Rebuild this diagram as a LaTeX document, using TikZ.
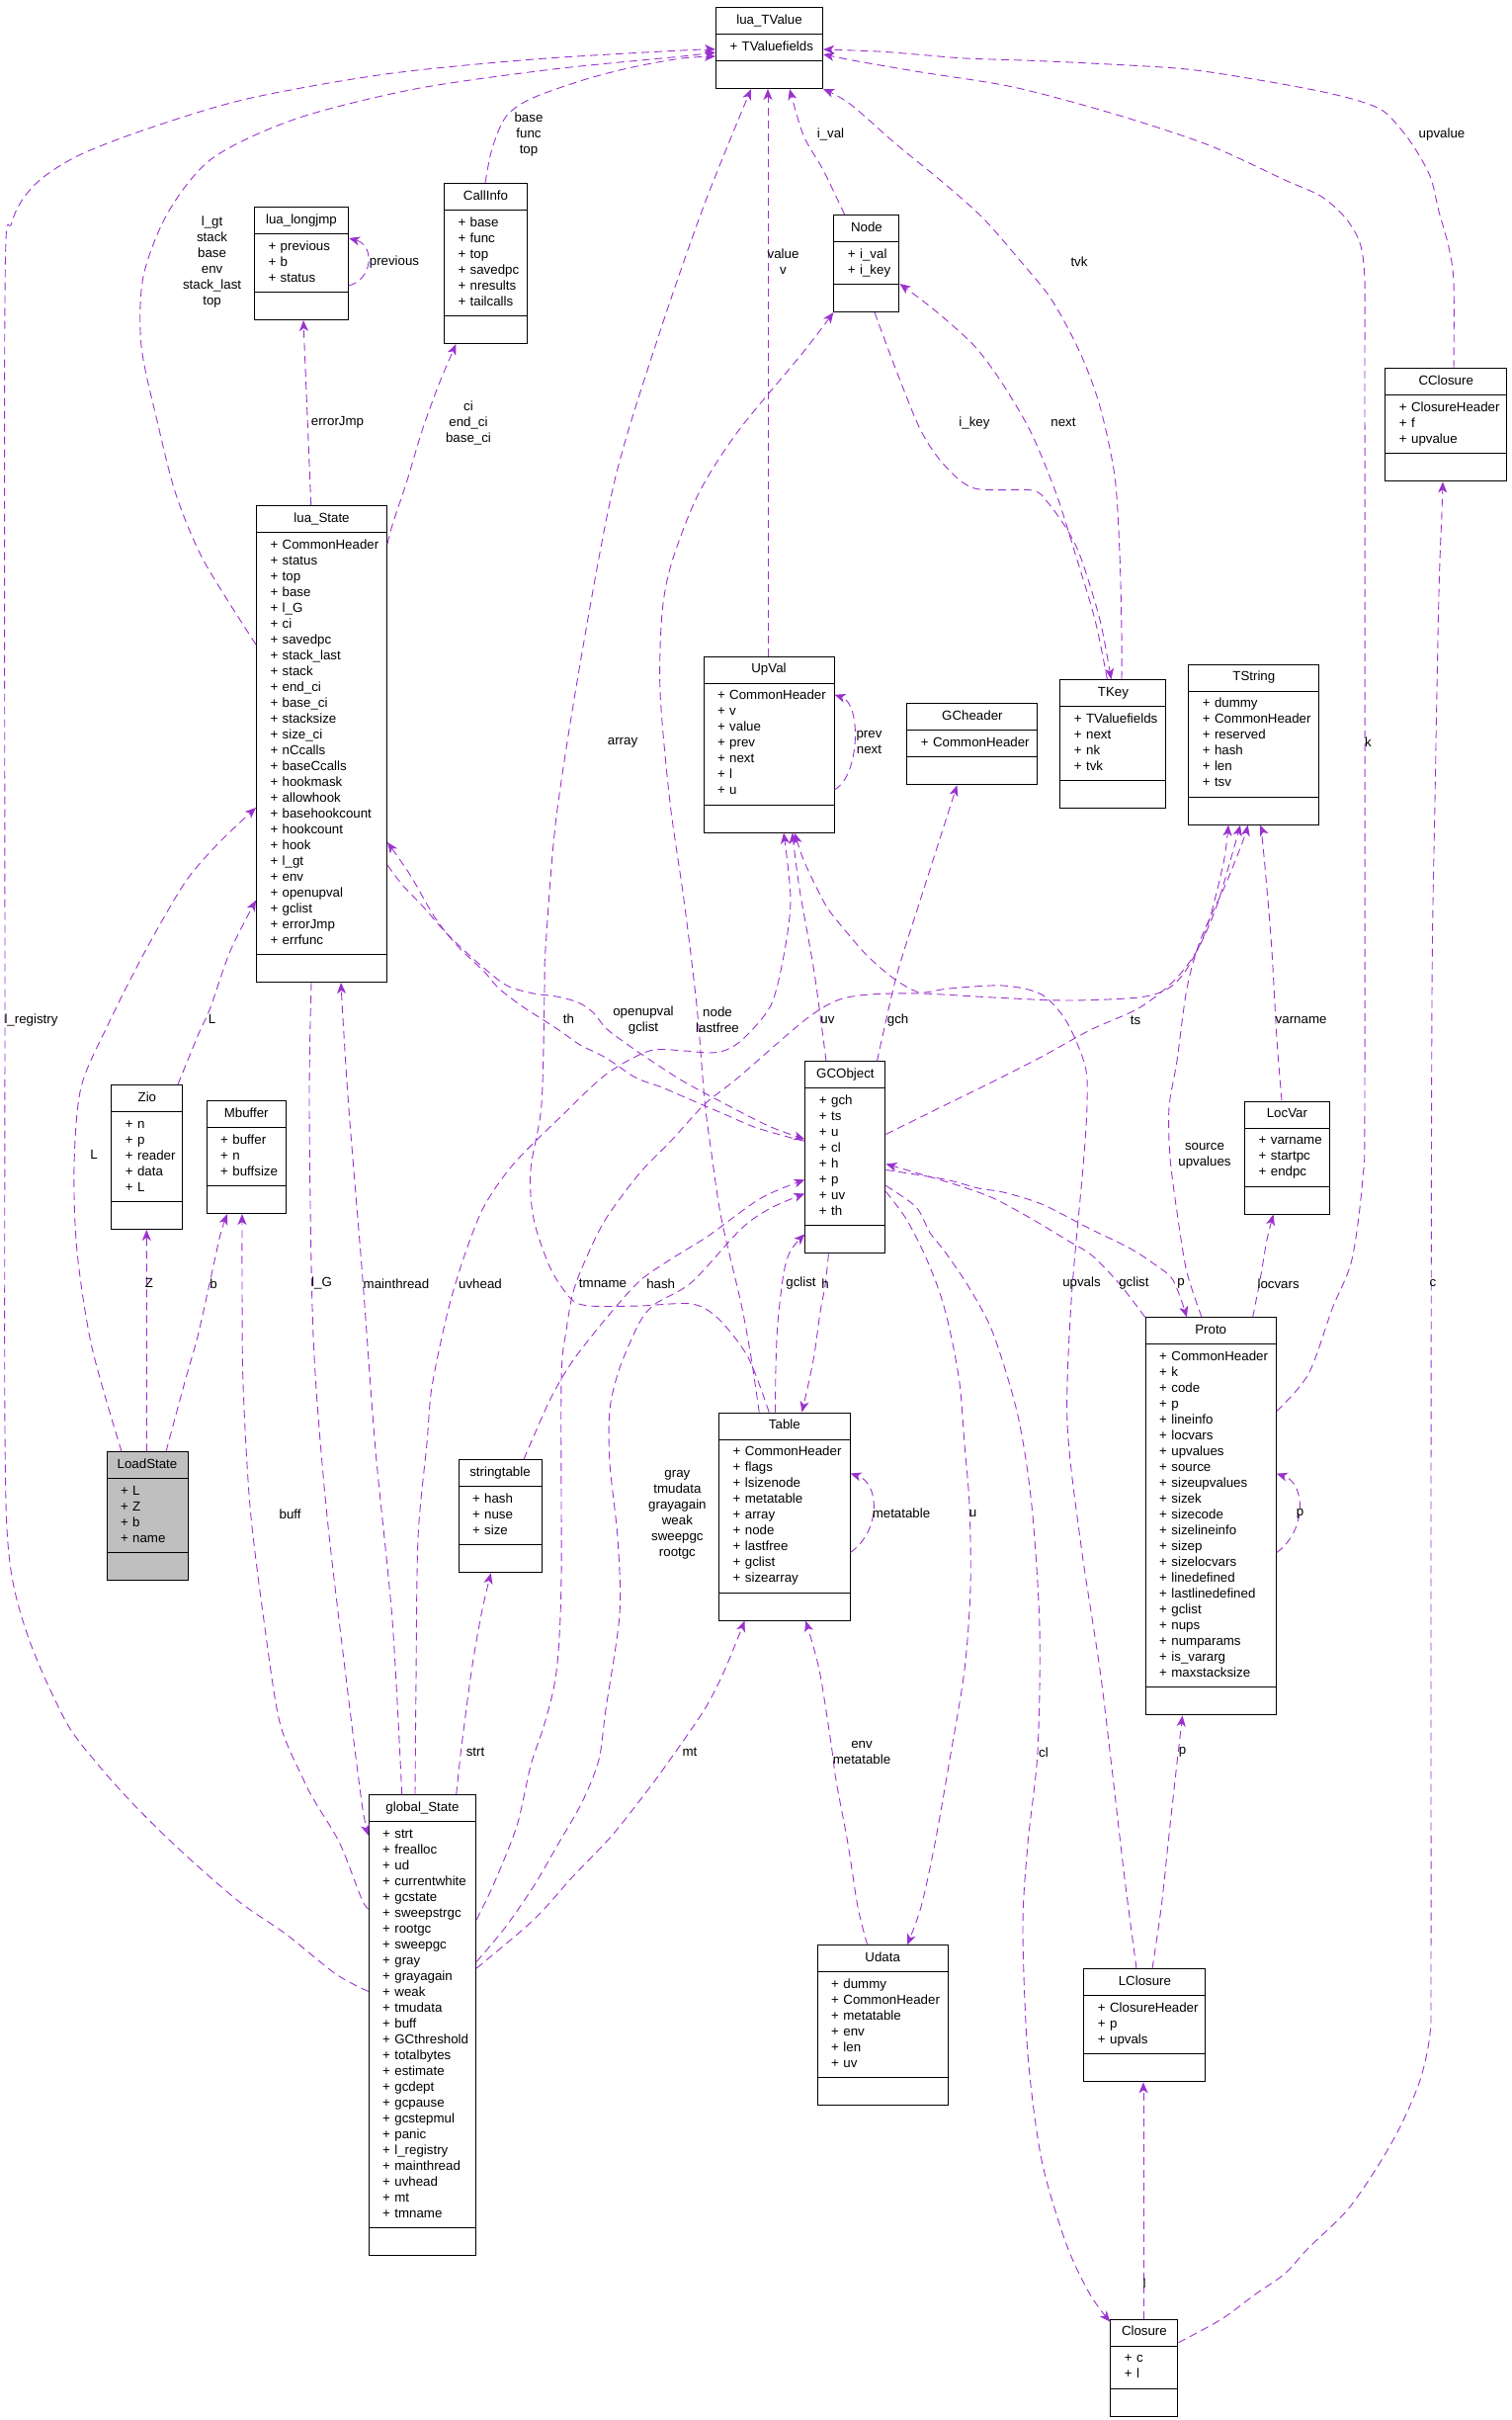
\documentclass[tikz,border=0pt]{standalone}
\usepackage{fontspec}
\setmainfont{Liberation Sans}
\usetikzlibrary{arrows.meta, shapes.multipart}
\definecolor{orchid}{HTML}{9A32CD}
\newcommand{\mem}[1]{\hspace*{11pt}+ #1\strut}
\newcommand{\ttl}[1]{\makebox[\hsize][c]{\strut #1}}

\begin{document}
\begin{tikzpicture}[
				x = 1pt, y = -1pt, % one unit per pixel, y runs down
				> = {Stealth[length=11pt, width=9pt, inset=3pt]}, % arrow head style
				font = \fontsize{13.3}{16}\selectfont,
				cls/.style = {draw = black, line width = 1pt, fill = white,
					rectangle split, rectangle split parts = 3,
					rectangle split empty part height = 17pt,
					rectangle split empty part depth = 0pt,
					inner xsep = 3pt, inner ysep = 5pt, anchor = north west},
				uses/.style = {->, draw = orchid, line width = 0.9pt,
					dash pattern = on 8pt off 5pt},
				lbl/.style = {align = center, inner sep = 0pt}
				]
				
				\useasboundingbox (0,0) rectangle (1529,2448);
				
				% classes
				\node[cls, text width=102pt] (tvalue) at (724,7) {\ttl{lua\_TValue}\nodepart{two} \mem{TValuefields}};
				\node[cls, text width=89pt] (longjmp) at (257,209) {\ttl{lua\_longjmp}\nodepart{two} \mem{previous}\\ \mem{b}\\ \mem{status}};
				\node[cls, text width=78pt] (callinfo) at (449,185) {\ttl{CallInfo}\nodepart{two} \mem{base}\\ \mem{func}\\ \mem{top}\\ \mem{savedpc}\\ \mem{nresults}\\ \mem{tailcalls}};
				\node[cls, text width=60pt] (node) at (843.4,217) {\ttl{Node}\nodepart{two} \mem{i\_val}\\ \mem{i\_key}};
				\node[cls, text width=116.6pt] (cclosure) at (1401.4,372.4) {\ttl{CClosure}\nodepart{two} \mem{ClosureHeader}\\ \mem{f}\\ \mem{upvalue}};
				\node[cls, text width=126pt] (lstate) at (259,511) {\ttl{lua\_State}\nodepart{two} \mem{CommonHeader}\\ \mem{status}\\ \mem{top}\\ \mem{base}\\ \mem{l\_G}\\ \mem{ci}\\ \mem{savedpc}\\ \mem{stack\_last}\\ \mem{stack}\\ \mem{end\_ci}\\ \mem{base\_ci}\\ \mem{stacksize}\\ \mem{size\_ci}\\ \mem{nCcalls}\\ \mem{baseCcalls}\\ \mem{hookmask}\\ \mem{allowhook}\\ \mem{basehookcount}\\ \mem{hookcount}\\ \mem{hook}\\ \mem{l\_gt}\\ \mem{env}\\ \mem{openupval}\\ \mem{gclist}\\ \mem{errorJmp}\\ \mem{errfunc}};
				\node[cls, text width=126pt] (upval) at (711.5,663.5) {\ttl{UpVal}\nodepart{two} \mem{CommonHeader}\\ \mem{v}\\ \mem{value}\\ \mem{prev}\\ \mem{next}\\ \mem{l}\\ \mem{u}};
				\node[cls, text width=126pt] (gcheader) at (917.4,711.3) {\ttl{GCheader}\nodepart{two} \mem{CommonHeader}};
				\node[cls, text width=101pt] (tkey) at (1072.4,687.2) {\ttl{TKey}\nodepart{two} \mem{TValuefields}\\ \mem{next}\\ \mem{nk}\\ \mem{tvk}};
				\node[cls, text width=126pt] (tstring) at (1202.3,671.6) {\ttl{TString}\nodepart{two} \mem{dummy}\\ \mem{CommonHeader}\\ \mem{reserved}\\ \mem{hash}\\ \mem{len}\\ \mem{tsv}};
				\node[cls, text width=66pt] (zio) at (112.4,1097) {\ttl{Zio}\nodepart{two} \mem{n}\\ \mem{p}\\ \mem{reader}\\ \mem{data}\\ \mem{L}};
				\node[cls, text width=74pt] (mbuffer) at (208.7,1113) {\ttl{Mbuffer}\nodepart{two} \mem{buffer}\\ \mem{n}\\ \mem{buffsize}};
				\node[cls, text width=75pt] (gcobject) at (814.4,1073.4) {\ttl{GCObject}\nodepart{two} \mem{gch}\\ \mem{ts}\\ \mem{u}\\ \mem{cl}\\ \mem{h}\\ \mem{p}\\ \mem{uv}\\ \mem{th}};
				\node[cls, text width=79.4pt] (locvar) at (1259.2,1113.5) {\ttl{LocVar}\nodepart{two} \mem{varname}\\ \mem{startpc}\\ \mem{endpc}};
				\node[cls, text width=126pt] (proto) at (1158.7,1332.4) {\ttl{Proto}\nodepart{two} \mem{CommonHeader}\\ \mem{k}\\ \mem{code}\\ \mem{p}\\ \mem{lineinfo}\\ \mem{locvars}\\ \mem{upvalues}\\ \mem{source}\\ \mem{sizeupvalues}\\ \mem{sizek}\\ \mem{sizecode}\\ \mem{sizelineinfo}\\ \mem{sizep}\\ \mem{sizelocvars}\\ \mem{linedefined}\\ \mem{lastlinedefined}\\ \mem{gclist}\\ \mem{nups}\\ \mem{numparams}\\ \mem{is\_vararg}\\ \mem{maxstacksize}};
				\node[cls, text width=126.3pt] (table) at (727.2,1428.5) {\ttl{Table}\nodepart{two} \mem{CommonHeader}\\ \mem{flags}\\ \mem{lsizenode}\\ \mem{metatable}\\ \mem{array}\\ \mem{node}\\ \mem{lastfree}\\ \mem{gclist}\\ \mem{sizearray}};
				\node[cls, fill=black!25, text width=76pt] (loadstate) at (107.5,1468.3) {\ttl{LoadState}\nodepart{two} \mem{L}\\ \mem{Z}\\ \mem{b}\\ \mem{name}};
				\node[cls, text width=78pt] (strtab) at (463.5,1476.2) {\ttl{stringtable}\nodepart{two} \mem{hash}\\ \mem{nuse}\\ \mem{size}};
				\node[cls, text width=102.5pt] (gstate) at (372.7,1815.4) {\ttl{global\_State}\nodepart{two} \mem{strt}\\ \mem{frealloc}\\ \mem{ud}\\ \mem{currentwhite}\\ \mem{gcstate}\\ \mem{sweepstrgc}\\ \mem{rootgc}\\ \mem{sweepgc}\\ \mem{gray}\\ \mem{grayagain}\\ \mem{weak}\\ \mem{tmudata}\\ \mem{buff}\\ \mem{GCthreshold}\\ \mem{totalbytes}\\ \mem{estimate}\\ \mem{gcdept}\\ \mem{gcpause}\\ \mem{gcstepmul}\\ \mem{panic}\\ \mem{l\_registry}\\ \mem{mainthread}\\ \mem{uvhead}\\ \mem{mt}\\ \mem{tmname}};
				\node[cls, text width=126pt] (udata) at (826.7,1967.4) {\ttl{Udata}\nodepart{two} \mem{dummy}\\ \mem{CommonHeader}\\ \mem{metatable}\\ \mem{env}\\ \mem{len}\\ \mem{uv}};
				\node[cls, text width=117pt] (lclosure) at (1096.4,1991.3) {\ttl{LClosure}\nodepart{two} \mem{ClosureHeader}\\ \mem{p}\\ \mem{upvals}};
				\node[cls, text width=62pt] (closure) at (1123.4,2345.7) {\ttl{Closure}\nodepart{two} \mem{c}\\ \mem{l}};
				
				% members pointing at lua_TValue
				\draw[uses] plot[smooth] coordinates {([yshift=-141pt]lstate.north west) (206,567) (178,500) (160,430) (143,350) (145,280) (170,215) (215,160) (300,120) (420,90) (560,70) (690,57) ([yshift=-46pt]tvalue.north west)};
				\draw[uses] plot[smooth] coordinates {([yshift=-199pt]gstate.north west) (340,1997) (290,1957) (245,1926) (206,1893) (169,1859) (133,1823) (100,1786) (67,1742) (30,1660) (10,1581) (5,1450) (5,1000) (5,300) (12,225) (35,187) (78,158) (150,130) (250,100) (390,75) (540,60) (690,51) ([yshift=-43pt]tvalue.north west)};
				\draw[uses] plot[smooth] coordinates {([xshift=42pt]callinfo.north west) (498,150) (512,118) (537,100) (590,81) (640,68) (690,59) ([yshift=-50pt]tvalue.north west)};
				\draw[uses] plot[smooth] coordinates {([xshift=11.2pt]node.north west) (833,172) (813,137) ([xshift=75pt]tvalue.south west)};
				\draw[uses] ([xshift=65.5pt]upval.north west) -- ([xshift=53pt]tvalue.south west);
				\draw[uses] plot[smooth] coordinates {([xshift=62.6pt]tkey.north west) (1135,640) (1133,560) (1128,482) (1113,411) (1093,357) (1064,303) (1030,261) (995,221) (956,186) (907,146) (860,105) (tvalue.south east)};
				\draw[uses] plot[smooth] coordinates {([yshift=-95.3pt]proto.north east) (1324,1390) (1348,1324) (1368,1274) (1379,1191) (1381,1100) (1381,400) (1380,268) (1367,228) (1339,200) (1300,182) (1221,146) (1123,114) (1025,88) (932,73) (868,62) ([yshift=-48pt]tvalue.north east)};
				\draw[uses] plot[smooth] coordinates {([xshift=69.6pt]cclosure.north west) (1471,286) (1466,250) (1456,214) (1447,178) (1427,143) (1402,114) (1378,103) (1339,93) (1280,82) (1201,70) (1103,64) (1035,61) (976,59) (927,55) (888,52) ([yshift=-43pt]tvalue.north east)};
				\draw[uses] plot[smooth] coordinates {([xshift=51pt]table.north west) (757,1373) (727,1334) (700,1319) (647,1321) (597,1321) (578,1314) (557,1283) (540,1233) (537,1183) (548,1117) (551,1000) (552,960) (563,826) (590,654) (623,482) (667,338) (713,206) ([xshift=36pt]tvalue.south west)};
				
				% lua_State and its neighbours
				\draw[uses] ([xshift=55.7pt]lstate.north west) -- ([xshift=50pt]longjmp.south west);
				\draw[uses] ([yshift=-80pt]longjmp.north east) .. controls (378,282) and (379,248) .. ([yshift=-32pt]longjmp.north east);
				\draw[uses] plot[smooth] coordinates {([yshift=-39pt]lstate.north east) (398,528) (412,486) (427,436) (444,389) ([xshift=12.5pt]callinfo.south west)};
				\draw[uses] plot[smooth] coordinates {([xshift=56pt]lstate.south west) (313,1122) (317,1352) (330,1524) (350,1696) (366,1823) ([yshift=-41.3pt]gstate.north west)};
				\draw[uses] plot[smooth] coordinates {([xshift=34pt]gstate.north west) (397,1639) (380,1467) (367,1294) (353,1122) (347,1030) ([xshift=86pt]lstate.south west)};
				\draw[uses] plot[smooth] coordinates {([yshift=-364pt]lstate.north east) (407,895) (428,917) (448,940) (465,957) (487,977) (513,997) (540,1005) (563,1008) (585,1014) (600,1024) (613,1040) (630,1053) (650,1067) (690,1093) (740,1120) (780,1140) ([yshift=-79pt]gcobject.north west)};
				\draw[uses] plot[smooth] coordinates {([yshift=-81pt]gcobject.north west) (797,1150) (763,1140) (733,1127) (700,1113) (670,1100) (643,1090) (613,1070) (587,1057) (567,1043) (547,1030) (527,1017) (505,1000) (490,983) (463,957) (440,928) (415,885) ([yshift=-341pt]lstate.north east)};
				
				% LoadState and Zio
				\draw[uses] plot[smooth] coordinates {([xshift=15.5pt]loadstate.north west) (93,1363) (78,1266) (75,1180) (82,1100) (110,1035) (147,962) (187,893) (221,853) ([yshift=-306pt]lstate.north west)};
				\draw[uses] ([xshift=40.8pt]loadstate.north west) -- ([xshift=35.9pt]zio.south west);
				\draw[uses] plot[smooth] coordinates {([xshift=60.5pt]loadstate.north west) (187,1398) (200,1352) (213,1294) (223,1249) ([xshift=21.3pt]mbuffer.south west)};
				\draw[uses] plot[smooth] coordinates {([xshift=67.6pt]zio.north west) (200,1048) (213,1019) (233,962) ([yshift=-399.7pt]lstate.north west)};
				
				% global_State
				\draw[uses] plot[smooth] coordinates {([yshift=-115.6pt]gstate.north west) (366,1921) (344,1865) (319,1823) (307,1800) (283,1742) (267,1639) (253,1524) (246,1400) (245,1300) ([xshift=36.3pt]mbuffer.south west)};
				\draw[uses] plot[smooth] coordinates {([xshift=89pt]gstate.north west) (467,1767) (477,1691) (487,1633) ([xshift=33.2pt]strtab.south west)};
				\draw[uses] plot[smooth] coordinates {([xshift=47.3pt]gstate.north west) (421,1700) (423,1556) (432,1460) (437,1403) (453,1327) (470,1270) (490,1220) (520,1177) (567,1130) (613,1087) (657,1063) (692,1063) (718,1065) (735,1062) (753,1050) (780,1017) (793,967) (800,910) ([xshift=81.5pt]upval.south west)};
				\draw[uses] plot[smooth] coordinates {([yshift=-126.6pt]gstate.north east) (500,1905) (523,1847) (537,1786) (550,1747) (560,1709) (565,1671) (568,1594) (568,1396) (573,1346) (580,1307) (593,1273) (613,1233) (647,1187) (680,1153) (713,1117) (747,1090) (813,1033) (847,1012) (880,1006) (932,1005) (1005,1009) (1079,1012) (1152,1009) (1182,1000) (1201,980) (1221,939) (1238,873) ([xshift=40.7pt]tstring.south west)};
				\draw[uses] plot[smooth] coordinates {([yshift=-169pt]gstate.north east) (511,1950) (540,1908) (565,1865) (589,1823) (606,1780) (613,1729) (627,1633) (625,1556) (617,1480) (617,1426) (627,1384) (647,1338) (663,1319) (700,1297) (750,1243) (780,1222) ([yshift=-134pt]gcobject.north west)};
				\draw[uses] plot[smooth] coordinates {([yshift=-175.6pt]gstate.north east) (540,1942) (579,1899) (619,1857) (653,1814) (678,1780) (713,1729) (733,1690) ([xshift=26.4pt]table.south west)};
				\draw[uses] plot[smooth] coordinates {([xshift=66.5pt]strtab.north west) (557,1415) (580,1376) (613,1334) (647,1296) (680,1273) (717,1250) (770,1212) ([yshift=-120pt]gcobject.north west)};
				
				% GCObject and Table
				\draw[uses] plot[smooth] coordinates {([xshift=73.1pt]gcobject.north west) (907,988) (932,908) ([xshift=51pt]gcheader.south west)};
				\draw[uses] plot[smooth] coordinates {([xshift=21.6pt]gcobject.north west) (824,984) (809,899) ([xshift=90.2pt]upval.south west)};
				\draw[uses] plot[smooth] coordinates {([yshift=-74pt]gcobject.north east) (956,1118) (1005,1094) (1054,1069) (1103,1042) (1152,1020) (1187,993) (1211,962) (1231,917) (1248,860) ([xshift=52.7pt]tstring.south west)};
				\draw[uses] plot[smooth] coordinates {([yshift=-110pt]gcobject.north east) (956,1193) (990,1202) (1015,1206) (1054,1218) (1103,1243) (1142,1262) (1167,1278) (1187,1295) ([xshift=42.3pt]proto.north west)};
				\draw[uses] plot[smooth] coordinates {(proto.north west) (1133,1299) (1105,1270) (1079,1254) (1044,1233) (1005,1212) (966,1198) ([yshift=-104pt]gcobject.north east)};
				\draw[uses] plot[smooth] coordinates {([yshift=-132pt]gcobject.north east) (917,1233) (936,1270) (951,1308) (961,1345) (971,1399) (976,1461) (981,1523) (982,1606) (976,1689) (961,1780) (946,1865) (932,1929) ([xshift=91.3pt]udata.north west)};
				\draw[uses] plot[smooth] coordinates {([yshift=-126pt]gcobject.north east) (927,1221) (941,1247) (956,1266) (981,1303) (1005,1349) (1030,1432) (1044,1523) (1052,1647) (1050,1772) (1040,1865) (1035,1950) (1040,2078) (1054,2185) (1079,2270) (1103,2321) ([yshift=-3pt]closure.north west)};
				\draw[uses] plot[smooth] coordinates {([xshift=57.3pt]table.north west) (785,1384) (787,1338) (793,1288) (800,1265) ([yshift=20pt]gcobject.south west)};
				\draw[uses] plot[smooth] coordinates {([xshift=24pt]gcobject.south west) (835,1300) (830,1327) (823,1376) ([xshift=84.3pt]table.north west)};
				\draw[uses] ([yshift=-142pt]table.north east) .. controls (892,1548) and (890,1500) .. ([yshift=-62pt]table.north east);
				\draw[uses] plot[smooth] coordinates {([xshift=41pt]table.north west) (760,1373) (750,1319) (730,1233) (720,1167) (713,1113) (705,1017) (692,910) (678,812) (668,700) (670,620) (680,568) (707,499) (747,436) (813,356) (node.south west)};
				\draw[uses] plot[smooth] coordinates {([xshift=51pt]udata.north west) (868,1929) (858,1865) (846,1801) (841,1764) (829,1689) ([xshift=88pt]table.south west)};
				
				% Node, TKey, UpVal
				\draw[uses] plot[smooth] coordinates {([xshift=41.6pt]node.south west) (907,375) (932,436) (956,471) (986,494) (1044,496) (1060,508) (1080,536) (1094,565) (1113,627) ([xshift=52pt]tkey.north west)};
				\draw[uses] plot[smooth] coordinates {([xshift=48pt]tkey.north west) (1108,627) (1088,560) (1069,500) (1044,439) (1015,389) (986,350) (946,314) ([yshift=-70pt]node.north east)};
				\draw[uses] ([yshift=-135.3pt]upval.north east) .. controls (870,785) and (872,712) .. ([yshift=-39.3pt]upval.north east);
				
				% Proto, LocVar, closures
				\draw[uses] ([yshift=-238.3pt]proto.north east) .. controls (1323,1548) and (1321,1500) .. ([yshift=-158.3pt]proto.north east);
				\draw[uses] plot[smooth] coordinates {([xshift=108.9pt]proto.north west) (1275,1295) (1282,1254) ([xshift=29.4pt]locvar.south west)};
				\draw[uses] plot[smooth] coordinates {([xshift=57.3pt]proto.north west) (1201,1287) (1192,1233) (1184,1171) (1183,1120) (1191,1073) (1201,1000) (1215,950) (1240,895) (1258,850) ([xshift=60.4pt]tstring.south west)};
				\draw[uses] plot[smooth] coordinates {([xshift=37.8pt]locvar.north west) (1292,1051) (1287,962) (1282,899) (1277,846) ([xshift=72.7pt]tstring.south west)};
				\draw[uses] plot[smooth] coordinates {([xshift=53.6pt]lclosure.north west) (1138,1900) (1125,1788) (1113,1689) (1094,1564) (1080,1440) (1084,1316) (1096,1180) (1100,1118) (1098,1078) (1079,1033) (1054,1006) (1015,997) (960,1000) (932,1004) (912,995) (892,980) (873,962) (846,930) (834,913) (814,872) ([xshift=92.5pt]upval.south west)};
				\draw[uses] plot[smooth] coordinates {([xshift=69.6pt]lclosure.north west) (1175,1930) (1182,1865) (1189,1801) ([xshift=37.8pt]proto.south west)};
				\draw[uses] ([xshift=33.6pt]closure.north west) -- ([xshift=60.6pt]lclosure.south west);
				\draw[uses] plot[smooth] coordinates {([yshift=-24pt]closure.north east) (1236,2346) (1270,2321) (1300,2300) (1324,2274) (1363,2236) (1393,2193) (1417,2151) (1437,2104) (1447,2057) (1448,1993) (1448,1500) (1449,1006) (1452,810) (1456,600) (1459,518) ([xshift=58.6pt]cclosure.south west)};
				
				% member labels
				\node[lbl] (lgtlbl) at (214.6,264.8) {l\_gt\\stack\\base\\env\\stack\_last\\top};
				\node[lbl] (lreglbl) at (31.5,1031.7) {l\_registry};
				\node[lbl] (baselbl) at (535,135.7) {base\\func\\top};
				\node[lbl] (errlbl) at (341.5,427.7) {errorJmp};
				\node[lbl] (prevlbl) at (399,265) {previous};
				\node[lbl] (cilbl) at (474,427.7) {ci\\end\_ci\\base\_ci};
				\node[lbl] (ivallbl) at (840.5,135.7) {i\_val};
				\node[lbl] (valuelbl) at (792.5,265) {value\\v};
				\node[lbl] (tvklbl) at (1092,265) {tvk};
				\node[lbl] (klbl) at (1384.5,751) {k};
				\node[lbl] (upvaluelbl) at (1459,135.7) {upvalue};
				\node[lbl] (ikeylbl) at (986,427.7) {i\_key};
				\node[lbl] (nextlbl) at (1076,427.7) {next};
				\node[lbl] (nodelbl) at (726,1032) {node\\lastfree};
				\node[lbl] (arraylbl) at (630,751) {array};
				\node[lbl] (tgclistlbl) at (810.5,1298.4) {gclist};
				\node[lbl] (hlbl) at (835,1298.4) {h};
				\node[lbl] (metalbl) at (912,1531) {metatable};
				\node[lbl] (envlbl) at (872,1772.8) {env\\metatable};
				\node[lbl] (ulbl) at (984.5,1531) {u};
				\node[lbl] (cllbl) at (1056,1772.6) {cl};
				\node[lbl] (gcplbl) at (1195,1298.4) {p};
				\node[lbl] (pgclistlbl) at (1147.4,1298.4) {gclist};
				\node[lbl] (pplbl) at (1315.6,1531.3) {p};
				\node[lbl] (locvarslbl) at (1293.6,1298.4) {locvars};
				\node[lbl] (sourcelbl) at (1219,1169) {source\\upvalues};
				\node[lbl] (varnamelbl) at (1316.6,1031.8) {varname};
				\node[lbl] (tslbl) at (1149,1031.8) {ts};
				\node[lbl] (gchlbl) at (908.6,1031.8) {gch};
				\node[lbl] (uvlbl) at (837.5,1031.8) {uv};
				\node[lbl] (prevnextlbl) at (879.5,751) {prev\\next};
				\node[lbl] (upvalslbl) at (1094.5,1298.4) {upvals};
				\node[lbl] (lcplbl) at (1196.5,1772.6) {p};
				\node[lbl] (llbl) at (1158.2,2310) {l};
				\node[lbl] (clbl) at (1450,1298.4) {c};
				\node[lbl] (openlbl) at (651,1032) {openupval\\gclist};
				\node[lbl] (thlbl) at (575.5,1031) {th};
				\node[lbl] (tmnamelbl) at (610,1298.4) {tmname};
				\node[lbl] (graylbl) at (685.4,1532.4) {gray\\tmudata\\grayagain\\weak\\sweepgc\\rootgc};
				\node[lbl] (mtlbl) at (698,1772.6) {mt};
				\node[lbl] (strtlbl) at (481,1772.6) {strt};
				\node[lbl] (uvheadlbl) at (486,1298.4) {uvhead};
				\node[lbl] (mainlbl) at (401,1298.4) {mainthread};
				\node[lbl] (lglbl) at (325.5,1298.4) {l\_G};
				\node[lbl] (bufflbl) at (293.6,1531.3) {buff};
				\node[lbl] (lslbl) at (95,1168) {L};
				\node[lbl] (zlbl) at (151,1298.4) {Z};
				\node[lbl] (blbl) at (216,1298.4) {b};
				\node[lbl] (ziollbl) at (214.6,1031) {L};
				\node[lbl] (hashlbl) at (668.7,1298.4) {hash};
			\end{tikzpicture}
\end{document}
